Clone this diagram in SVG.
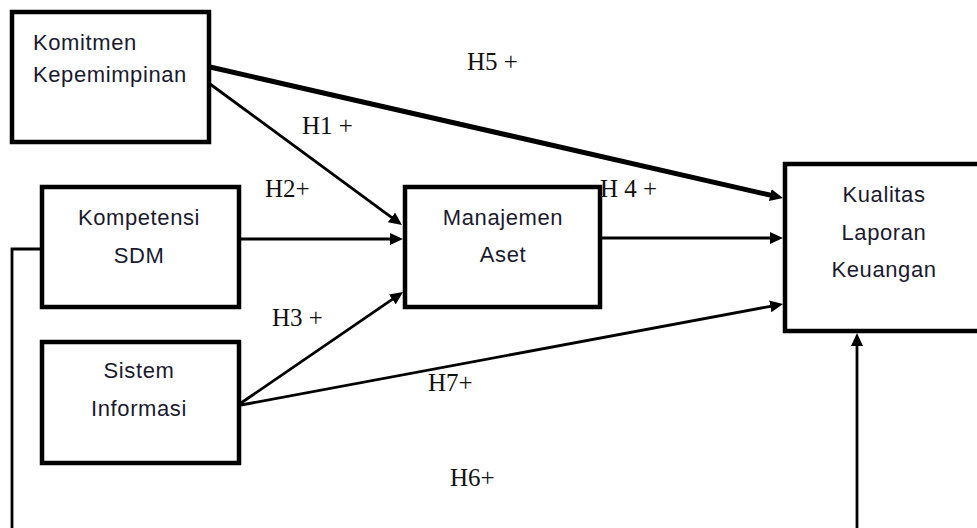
<svg xmlns="http://www.w3.org/2000/svg" width="977" height="528" viewBox="0 0 977 528">
<style>
.box{fill:#fff;stroke:#000;stroke-width:4.5}
.nt{font-family:"Liberation Sans",Arial,sans-serif;font-size:22px;letter-spacing:0.6px;fill:#1a1a2e}
.lb{font-family:"Liberation Serif","Times New Roman",serif;font-size:25px;fill:#111}
.c{fill:none;stroke:#000;stroke-width:2.8}
.thick{stroke-width:5}
</style>
<defs>
<marker id="ah" markerUnits="userSpaceOnUse" markerWidth="13" markerHeight="12" refX="3" refY="6" orient="auto">
<path d="M0,0 L13,6 L0,12 z" fill="#000"/>
</marker>
</defs>
<rect width="977" height="528" fill="#fff"/>
<g id="connectors">
<line class="c thick" x1="210" y1="67" x2="773.2" y2="195.8" marker-end="url(#ah)"/>
<line class="c" x1="210" y1="84" x2="393.9" y2="219.1" marker-end="url(#ah)"/>
<line class="c" x1="239" y1="239" x2="393" y2="239" marker-end="url(#ah)"/>
<line class="c" x1="241" y1="403" x2="394.8" y2="297.7" marker-end="url(#ah)"/>
<line class="c" x1="600" y1="238" x2="773" y2="238" marker-end="url(#ah)"/>
<line class="c" x1="241" y1="405" x2="773.2" y2="305.8" marker-end="url(#ah)"/>
<polyline class="c" points="42,249 12,249 12,530"/>
<line class="c" x1="857" y1="530" x2="857" y2="343" marker-end="url(#ah)"/>
</g>
<g id="komitmen">
<rect class="box" x="12" y="12" width="197" height="130"/>
<text class="nt" x="33" y="50">Komitmen</text>
<text class="nt" x="33" y="82">Kepemimpinan</text>
</g>
<g id="kompetensi">
<rect class="box" x="42" y="187" width="197" height="120"/>
<text class="nt" x="139" y="225" text-anchor="middle">Kompetensi</text>
<text class="nt" x="139" y="263" text-anchor="middle">SDM</text>
</g>
<g id="sistem">
<rect class="box" x="42" y="342" width="197" height="121"/>
<text class="nt" x="139" y="378" text-anchor="middle">Sistem</text>
<text class="nt" x="139" y="416" text-anchor="middle">Informasi</text>
</g>
<g id="manajemen">
<rect class="box" x="405" y="187" width="195" height="120"/>
<text class="nt" x="503" y="225" text-anchor="middle">Manajemen</text>
<text class="nt" x="503" y="262" text-anchor="middle">Aset</text>
</g>
<g id="kualitas">
<rect class="box" x="785" y="164" width="210" height="167"/>
<text class="nt" x="884" y="202" text-anchor="middle">Kualitas</text>
<text class="nt" x="884" y="240" text-anchor="middle">Laporan</text>
<text class="nt" x="884" y="277" text-anchor="middle">Keuangan</text>
</g>
<g id="labels">
<text class="lb" x="467" y="70">H5 +</text>
<text class="lb" x="302" y="134">H1 +</text>
<text class="lb" x="265" y="197">H2+</text>
<text class="lb" x="600" y="197">H 4 +</text>
<text class="lb" x="272" y="326">H3 +</text>
<text class="lb" x="428" y="391">H7+</text>
<text class="lb" x="450" y="486">H6+</text>
</g>
</svg>
